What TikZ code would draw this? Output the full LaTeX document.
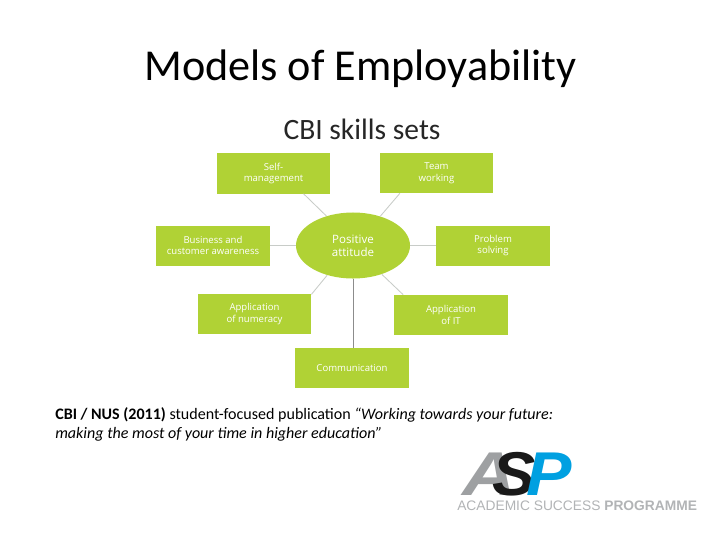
\documentclass[tikz,border=0pt]{standalone}
\usepackage{graphicx}
\usepackage{fontspec}
\setmainfont{Carlito}
\newfontfamily\boxfont{Open Sans}
\newfontfamily\logofont{Liberation Sans}
\usetikzlibrary{shapes.geometric}
\definecolor{skillgreen}{RGB}{176,210,53}
\definecolor{spokegray}{RGB}{200,204,200}
\definecolor{logogray}{RGB}{158,160,162}
\definecolor{logoblue}{RGB}{0,160,225}
\definecolor{logotext}{RGB}{178,180,182}
\tikzset{
    skillbox/.style={fill=skillgreen, text=white, minimum width=2.83cm, minimum height=1cm,
        inner sep=0pt, align=center, font=\boxfont\fontsize{6.8}{8.2}\selectfont},
    spoke/.style={draw=spokegray, line width=0.6pt},
    logoletter/.style={inner sep=0pt, font=\logofont\bfseries\itshape\fontsize{44}{44}\selectfont},
}
\begin{document}
\begin{tikzpicture}[x=0.025cm,y=-0.025cm]
    \useasboundingbox (0,0) rectangle (720,540);
    \fill[white] (0,0) rectangle (720,540);

    % Headings
    \node[font=\fontsize{31.4}{32}\selectfont] (title) at (360.5,68.5) {Models of Employability};
    \node[font=\fontsize{21}{22}\selectfont, text=black!85] (subtitle) at (362,129) {CBI skills sets};

    % Centre and the seven skills
    \node[ellipse, fill=skillgreen, text=white, minimum width=2.85cm, minimum height=1.65cm,
        inner sep=0pt, align=center, font=\boxfont\fontsize{8.2}{9.2}\selectfont] (attitude) at (353,245.5) {Positive\\attitude};
    \node[skillbox] (selfbox) at (273.5,173.5) {Self-\\management};
    \node[skillbox] (teambox) at (436.5,173) {Team\\working};
    \node[skillbox] (businessbox) at (213,245.5) {Business and\\customer awareness};
    \node[skillbox] (problembox) at (493,245.5) {Problem\\solving};
    \node[skillbox] (numeracybox) at (254.5,314) {Application\\of numeracy};
    \node[skillbox] (itbox) at (451,315) {Application\\of IT};
    \node[skillbox] (commbox) at (352,368) {Communication};

    % Spokes
    \draw[spoke] (attitude.132) -- (selfbox.-34);
    \draw[spoke] (attitude.47) -- (teambox.-151);
    \draw[spoke] (attitude.west) -- (businessbox.east);
    \draw[spoke] (attitude.east) -- (problembox.west);
    \draw[spoke] (attitude.229) -- (numeracybox.19);
    \draw[spoke] (attitude.-45) -- (itbox.157);
    \draw[spoke, draw=black!45] (attitude.south) -- (attitude.south |- commbox.north);

    % Reference below the diagram
    \node[anchor=north west, align=left, inner sep=0pt, font=\fontsize{11.4}{13.6}\selectfont] (reference) at (55,407)
        {\textbf{CBI / NUS (2011)} student-focused publication \textit{``Working towards your future:}\\
         \textit{making the most of your time in higher education''}};

    % Logo
    \node[logoletter, text=logogray] (logoa) at (489,474.5) {\scalebox{1.2}[1]{A}};
    \node[logoletter, text=black!90] (logos) at (514,474.5) {\scalebox{1.05}[1]{S}};
    \node[logoletter, text=logoblue] (logop) at (549,474.5) {\scalebox{1.1}[1]{P}};
    \node[anchor=west, inner sep=0pt, text=logotext, font=\logofont\fontsize{9.8}{10}\selectfont] (logotext) at (457,505.5)
        {ACADEMIC SUCCESS \textbf{PROGRAMME}};
\end{tikzpicture}
\end{document}
